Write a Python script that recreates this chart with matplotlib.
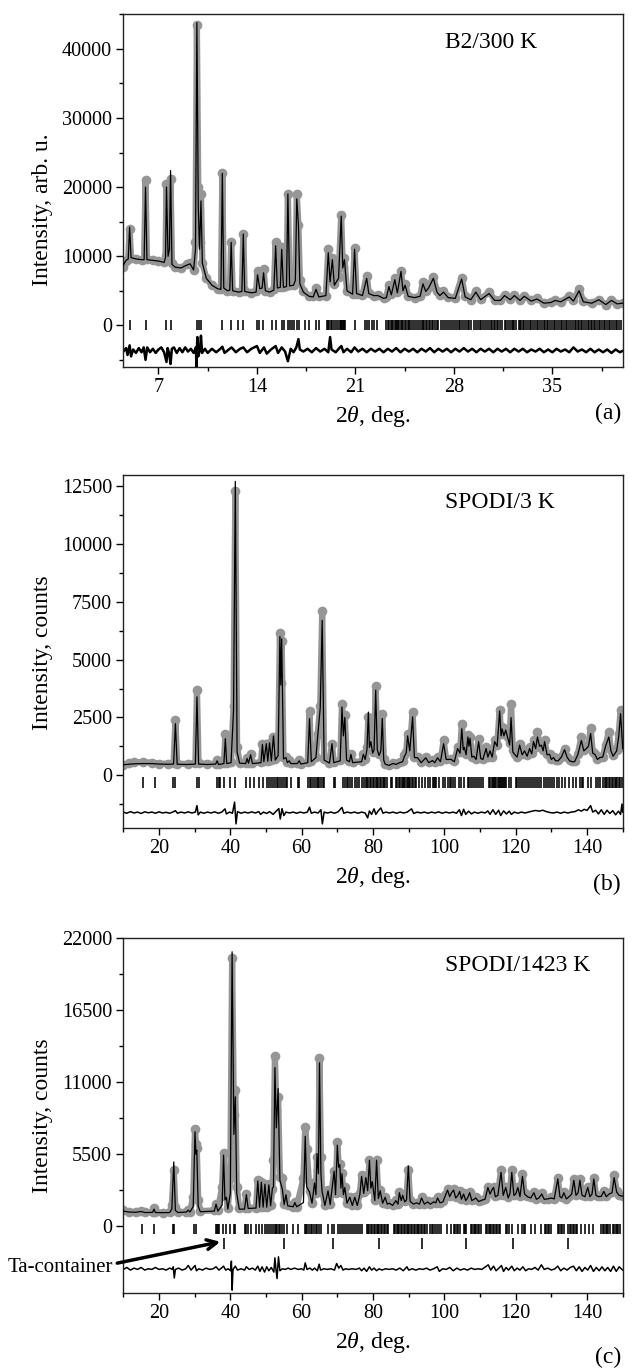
import matplotlib
matplotlib.use('Agg')
import matplotlib.pyplot as plt
from matplotlib.ticker import MultipleLocator

plt.rcParams['font.family'] = ['Liberation Serif', 'DejaVu Serif']
plt.rcParams['mathtext.fontset'] = 'custom'
plt.rcParams['mathtext.rm'] = 'Liberation Serif'
plt.rcParams['mathtext.it'] = 'Liberation Serif:italic'

#------------------------------------------------------------
# Panel (a): B2 / 300 K  (2theta, observed, calculated)
#------------------------------------------------------------
tt_a = [4.5, 4.7, 4.85, 4.95, 5.05, 5.4, 5.8, 5.98, 6.08, 6.18,
        6.6, 7.0, 7.4, 7.5, 7.57, 7.68, 7.78, 7.86, 7.96, 8.2,
        8.6, 9.0, 9.25, 9.5, 9.63, 9.73, 9.83, 9.92, 10.02, 10.12,
        10.4, 10.8, 11.2, 11.44, 11.54, 11.64, 11.9, 12.07, 12.17, 12.27,
        12.7, 12.93, 13.03, 13.13, 13.6, 13.94, 14.04, 14.2, 14.37, 14.47,
        14.6, 14.9, 15.2, 15.33, 15.45, 15.66, 15.76, 15.88, 16.1, 16.2,
        16.32, 16.6, 16.73, 16.83, 16.95, 17.05, 17.3, 17.7, 18.0, 18.2,
        18.4, 18.9, 19.07, 19.2, 19.36, 19.5, 19.8, 19.99, 20.1, 20.22,
        20.4, 20.8, 20.94, 21.08, 21.5, 21.8, 21.95, 22.3, 22.6, 23.0,
        23.2, 23.38, 23.55, 23.8, 23.98, 24.24, 24.38, 24.53, 24.75, 25.2,
        25.6, 25.8, 26.0, 26.2, 26.54, 26.8, 27.0, 27.26, 27.6, 28.1,
        28.55, 28.8, 29.2, 29.56, 29.9, 30.5, 30.9, 31.3, 31.6, 32.0,
        32.3, 32.7, 33.0, 33.5, 33.9, 34.4, 34.9, 35.2, 35.6, 36.2,
        36.5, 36.9, 37.2, 37.8, 38.3, 38.8, 39.2, 39.6, 40.0]
obs_a = [8500, 9300, 9600, 14000, 9800, 9600, 9500, 9600, 21000, 9600,
         9400, 9300, 9100, 10000, 20500, 10500, 12000, 21200, 9000, 8400,
         8300, 8800, 9000, 8000, 12000, 43500, 20000, 12000, 19000, 9000,
         6800, 5800, 5300, 5200, 22000, 5500, 5000, 5100, 12000, 5000,
         4800, 4900, 13200, 4900, 4700, 4900, 7800, 5500, 5600, 8200,
         5000, 4800, 5200, 12000, 5500, 5600, 11300, 5600, 5700, 19000,
         5800, 5900, 7000, 19000, 14500, 6500, 5000, 4200, 4200, 5400,
         4200, 4300, 11000, 6500, 9800, 6000, 7000, 16000, 8500, 9700,
         5000, 4500, 11200, 4600, 4400, 7200, 4700, 4300, 4400, 3900,
         4100, 5800, 4500, 6800, 4800, 7900, 5200, 6000, 4300, 4000,
         4300, 6300, 5000, 5600, 7000, 4900, 4400, 5000, 4100, 4000,
         6900, 4200, 3700, 5000, 3800, 4800, 3700, 3700, 4400, 3800,
         4400, 3700, 4300, 3600, 3900, 3200, 3300, 3600, 3400, 4200,
         3600, 5200, 3500, 3200, 3700, 3000, 3700, 3100, 3200]
calc_a = [8700, 9400, 9600, 14200, 9800, 9600, 9500, 9500, 20000, 9500,
          9400, 9300, 9100, 9800, 20000, 10000, 11000, 22400, 8800, 8400,
          8300, 8700, 8900, 8000, 11000, 43800, 17000, 11000, 18000, 9000,
          6800, 5800, 5300, 5200, 22000, 5400, 5000, 5100, 12000, 5000,
          4800, 4900, 13200, 4900, 4700, 4800, 7300, 5300, 5400, 7600,
          5000, 4800, 5100, 11500, 5400, 5500, 11000, 5500, 5600, 19000,
          5700, 5800, 6500, 18300, 14500, 6000, 4800, 4200, 4100, 5200,
          4100, 4300, 10500, 6300, 9500, 5800, 6800, 15800, 8300, 9500,
          5000, 4500, 11000, 4600, 4300, 6800, 4600, 4300, 4300, 3900,
          4000, 5600, 4400, 6600, 4700, 7800, 5000, 5800, 4200, 4000,
          4200, 6000, 4900, 5400, 6800, 4800, 4300, 4800, 4000, 3900,
          6700, 4100, 3700, 4800, 3700, 4600, 3600, 3600, 4300, 3700,
          4300, 3600, 4200, 3500, 3800, 3200, 3300, 3600, 3400, 4100,
          3500, 5000, 3400, 3200, 3700, 3000, 3600, 3100, 3200]
hkl_a = [5.0, 6.08, 7.57, 7.86, 9.73, 9.85, 10.02, 11.54, 12.17, 12.65,
         13.03, 14.0, 14.12, 14.45, 15.1, 15.33, 15.76, 15.95, 16.2, 16.35,
         16.5, 16.65, 16.83, 17.0, 17.45, 17.7, 18.2, 18.38, 19.0, 19.07,
         19.15, 19.25, 19.36, 19.5, 19.6, 19.75, 19.88, 19.94, 19.99, 20.05,
         20.1, 20.16, 20.22, 20.28, 20.94, 21.66, 21.8, 22.0, 22.2, 22.35,
         22.55, 23.15, 23.3, 23.38, 23.5, 23.62, 23.7, 23.8, 23.86, 23.95,
         24.05, 24.12, 24.24, 24.3, 24.4, 24.53, 24.6, 24.72, 24.8, 24.9,
         25.05, 25.15, 25.3, 25.45, 25.6, 25.7, 25.8, 25.9, 26.0, 26.1,
         26.2, 26.32, 26.44, 26.54, 26.65, 26.8, 26.9, 27.1, 27.26, 27.4,
         27.5, 27.65, 27.8, 27.95, 28.1, 28.25, 28.35, 28.45, 28.55, 28.7,
         28.85, 29.0, 29.1, 29.22, 29.4, 29.56, 29.7, 29.85, 29.95, 30.05,
         30.2, 30.35, 30.5, 30.62, 30.72, 30.85, 30.95, 31.05, 31.15, 31.3,
         31.45, 31.6, 31.72, 31.85, 32.0, 32.1, 32.2, 32.3, 32.45, 32.6,
         32.7, 32.8, 32.9, 33.0, 33.15, 33.3, 33.4, 33.5, 33.62, 33.75,
         33.9, 34.0, 34.1, 34.25, 34.4, 34.5, 34.6, 34.7, 34.85, 35.0,
         35.1, 35.2, 35.35, 35.5, 35.6, 35.7, 35.8, 35.95, 36.05, 36.2,
         36.3, 36.45, 36.6, 36.7, 36.8, 36.9, 37.0, 37.12, 37.25, 37.4,
         37.5, 37.6, 37.72, 37.85, 37.95, 38.05, 38.2, 38.3, 38.4, 38.55,
         38.65, 38.75, 38.9, 39.0, 39.1, 39.25, 39.4, 39.5, 39.6, 39.75, 39.9]
dif_a_x = [4.5, 4.7, 4.8, 4.95, 5.05, 5.2, 5.4, 5.6, 5.8, 5.95,
           6.08, 6.2, 6.4, 6.6, 6.8, 7.0, 7.2, 7.4, 7.57, 7.65,
           7.75, 7.86, 7.95, 8.1, 8.3, 8.5, 8.7, 8.9, 9.1, 9.3,
           9.5, 9.66, 9.7, 9.76, 9.83, 9.95, 10.02, 10.1, 10.3, 10.5,
           10.8, 11.1, 11.4, 11.54, 11.7, 12.0, 12.2, 12.5, 12.8, 13.03,
           13.3, 13.6, 14.0, 14.2, 14.5, 14.7, 15.0, 15.33, 15.5, 15.76,
           16.0, 16.2, 16.4, 16.6, 16.8, 16.95, 17.05, 17.3, 17.6, 17.9,
           18.2, 18.5, 18.8, 19.07, 19.2, 19.3, 19.6, 19.9, 20.0, 20.15,
           20.4, 20.7, 20.94, 21.2, 21.5, 21.8, 22.1, 22.4, 22.7, 23.0,
           23.3, 23.6, 23.9, 24.2, 24.5, 24.8, 25.1, 25.4, 25.7, 26.0,
           26.3, 26.6, 26.9, 27.2, 27.5, 27.8, 28.1, 28.4, 28.7, 29.0,
           29.3, 29.6, 29.9, 30.2, 30.5, 30.8, 31.1, 31.4, 31.7, 32.0,
           32.3, 32.6, 32.9, 33.2, 33.5, 33.8, 34.1, 34.4, 34.7, 35.0,
           35.3, 35.6, 35.9, 36.2, 36.5, 36.8, 37.1, 37.4, 37.7, 38.0,
           38.3, 38.6, 38.9, 39.2, 39.5, 39.8, 40.0]
dif_a_y = [-3800, -3300, -4300, -2900, -4500, -3500, -4000, -3300, -3900, -3200,
           -5000, -3200, -3900, -3400, -4000, -3500, -3200, -3900, -5300, -3300,
           -4000, -5600, -3400, -3200, -4000, -3300, -3900, -3200, -3800, -3400,
           -4000, -3200, -6000, -1700, -4500, -3500, -1500, -4000, -3400, -4000,
           -3400, -3900, -3400, -3100, -4000, -3500, -3200, -3900, -3400, -3200,
           -3900, -3400, -3000, -4000, -3200, -4100, -3500, -3000, -4000, -3200,
           -3800, -5200, -3400, -3900, -3200, -2000, -3500, -3800, -3400, -3900,
           -3300, -3800, -3400, -3900, -1700, -3500, -3900, -3200, -3000, -3900,
           -3400, -3900, -3200, -3800, -3400, -3900, -3400, -3800, -3400, -3900,
           -3400, -3800, -3300, -3900, -3400, -3800, -3400, -3900, -3400, -3800,
           -3300, -3900, -3400, -3800, -3400, -3900, -3400, -3800, -3300, -3800,
           -3400, -3900, -3400, -3800, -3400, -3900, -3400, -3800, -3400, -3900,
           -3400, -3800, -3400, -3900, -3500, -3800, -3400, -3900, -3500, -3900,
           -3400, -3800, -3500, -3900, -3200, -3800, -3500, -3900, -3400, -3900,
           -3500, -3900, -3500, -4000, -3500, -3900, -3700]

#------------------------------------------------------------
# Panel (b): SPODI / 3 K
#------------------------------------------------------------
tt_b = [10.0, 11.5, 13.0, 15.5, 18.0, 20.0, 22.5, 24.1, 24.6, 25.1,
        28.0, 30.2, 30.65, 31.1, 33.5, 35.9, 36.3, 36.7, 38.2, 38.6,
        39.0, 40.2, 40.9, 41.4, 41.9, 42.6, 44.3, 44.7, 45.1, 45.7,
        46.2, 48.6, 49.0, 49.4, 50.1, 50.5, 51.0, 51.5, 52.1, 52.6,
        53.4, 53.9, 54.15, 54.4, 54.9, 55.6, 56.0, 56.5, 57.0, 58.8,
        59.3, 59.8, 61.7, 62.2, 62.7, 64.0, 64.5, 65.2, 65.75, 66.3,
        67.8, 68.5, 69.0, 70.8, 71.3, 71.7, 72.1, 72.6, 73.4, 73.8,
        74.3, 76.8, 77.3, 77.8, 78.3, 78.7, 79.0, 79.4, 79.9, 80.3,
        80.75, 81.2, 81.7, 82.2, 82.6, 83.0, 83.4, 84.5, 85.5, 86.5,
        87.5, 88.3, 88.8, 89.3, 89.7, 90.3, 91.1, 91.6, 92.5, 93.5,
        94.8, 95.6, 96.7, 97.3, 98.1, 98.9, 99.8, 100.5, 101.9, 102.8,
        103.7, 104.4, 104.9, 105.3, 105.6, 106.1, 106.6, 106.9, 107.2, 107.7,
        108.2, 108.9, 109.6, 110.2, 110.8, 111.7, 112.2, 112.8, 113.4, 114.1,
        114.8, 115.5, 115.9, 116.2, 116.7, 117.2, 117.8, 118.3, 118.7, 119.2,
        119.7, 120.4, 121.1, 121.8, 122.5, 123.2, 123.9, 124.5, 125.0, 125.6,
        126.1, 126.7, 127.2, 127.7, 128.1, 128.8, 129.5, 130.0, 130.6, 131.2,
        131.9, 132.8, 133.7, 134.4, 135.1, 135.8, 136.5, 137.4, 138.4, 139.1,
        139.8, 140.4, 141.0, 141.6, 142.2, 142.9, 143.6, 144.4, 145.2, 146.1,
        146.7, 147.3, 148.3, 148.9, 149.4, 150.0]
obs_b = [420, 520, 560, 560, 540, 500, 490, 520, 2370, 500,
         480, 520, 3700, 520, 480, 500, 640, 480, 520, 1770,
         520, 560, 3000, 12290, 1200, 540, 520, 750, 540, 900,
         520, 560, 1360, 600, 1360, 620, 1380, 640, 1650, 700,
         900, 6140, 4000, 5800, 800, 780, 560, 640, 520, 520,
         640, 500, 560, 2780, 600, 800, 1800, 3000, 7100, 700,
         540, 1360, 560, 640, 3100, 1800, 2590, 700, 600, 930,
         560, 600, 930, 700, 1200, 2500, 1300, 1500, 1000, 1200,
         3850, 1200, 900, 1100, 2660, 700, 490, 430, 520, 480,
         560, 600, 850, 1000, 1800, 1100, 2735, 800, 780, 560,
         780, 560, 650, 560, 780, 600, 1500, 700, 700, 600,
         1200, 1000, 2230, 1200, 1250, 900, 1720, 1300, 1650, 800,
         850, 700, 1580, 750, 700, 1200, 800, 1070, 800, 1500,
         1300, 2810, 1800, 2080, 1800, 2010, 1650, 1400, 3070, 1100,
         930, 800, 1360, 900, 1070, 850, 1200, 950, 1500, 1200,
         1870, 1300, 1360, 1100, 1500, 900, 930, 700, 780, 640,
         640, 800, 1140, 800, 640, 600, 600, 900, 1650, 1100,
         1200, 1300, 2040, 1000, 930, 700, 780, 800, 1300, 1870,
         1100, 850, 1070, 1800, 2810, 1200]
calc_b = [450, 470, 490, 500, 500, 480, 470, 480, 2230, 470,
          460, 480, 3390, 480, 460, 480, 620, 460, 500, 1580,
          500, 540, 2800, 12720, 1000, 520, 500, 720, 520, 880,
          500, 540, 1330, 580, 1360, 600, 1400, 620, 1700, 650,
          850, 6000, 3900, 5900, 700, 760, 540, 620, 500, 500,
          620, 480, 540, 2450, 580, 760, 1700, 2900, 6700, 650,
          520, 1360, 540, 620, 2950, 1700, 2500, 650, 580, 900,
          540, 580, 900, 680, 1100, 2730, 1200, 1450, 950, 1100,
          3680, 1100, 850, 1050, 2450, 650, 480, 420, 500, 470,
          540, 580, 820, 950, 1700, 1050, 2520, 760, 750, 540,
          750, 540, 630, 540, 750, 580, 1360, 680, 680, 580,
          1150, 950, 2010, 1100, 1200, 880, 1650, 1250, 1600, 780,
          820, 680, 1450, 720, 680, 1150, 780, 1050, 780, 1450,
          1250, 2780, 1700, 2000, 1700, 1950, 1600, 1300, 2490, 1000,
          900, 780, 1300, 880, 1050, 820, 1150, 920, 1450, 1150,
          1650, 1250, 1300, 1050, 1450, 880, 900, 680, 760, 620,
          620, 780, 1100, 780, 620, 580, 580, 880, 1500, 1050,
          1150, 1250, 1800, 950, 900, 680, 760, 780, 1250, 1650,
          1050, 820, 1050, 1700, 2660, 1150]
hkl_b = [15.5, 18.8, 24.0, 24.4, 30.75, 31.2, 36.2, 36.7, 37.2, 38.3,
         39.8, 41.4, 44.5, 45.5, 46.6, 48.0, 49.2, 50.2, 50.8, 51.4,
         52.0, 52.5, 53.0, 53.5, 54.0, 54.4, 55.0, 55.5, 56.0, 57.0,
         58.9, 59.3, 61.9, 62.3, 62.7, 63.3, 63.8, 64.2, 64.6, 65.0,
         65.4, 65.9, 66.4, 69.0, 69.4, 71.6, 72.1, 72.6, 73.1, 73.6,
         74.0, 75.0, 75.6, 76.2, 76.8, 77.5, 77.9, 78.3, 78.7, 79.1,
         79.5, 79.9, 80.3, 80.7, 81.1, 81.5, 81.9, 82.3, 82.7, 83.1,
         83.5, 84.0, 85.0, 85.4, 86.4, 86.8, 87.2, 87.6, 88.0, 88.3,
         88.7, 89.0, 89.4, 89.8, 90.2, 90.5, 90.9, 91.3, 91.7, 92.0,
         93.0, 93.8, 94.5, 95.3, 96.0, 96.7, 97.0, 97.4, 97.7, 98.6,
         99.5, 100.3, 100.9, 101.5, 102.0, 102.5, 103.0, 104.0, 104.7, 105.6,
         106.6, 107.0, 107.5, 108.0, 108.6, 109.2, 109.8, 110.3, 110.8, 112.5,
         112.9, 113.4, 113.7, 114.0, 114.3, 114.6, 114.9, 115.2, 115.5, 115.8,
         116.1, 116.4, 116.7, 117.0, 117.3, 118.0, 118.7, 120.0, 120.5, 121.0,
         121.5, 122.0, 122.6, 123.2, 123.7, 124.3, 124.8, 125.4, 126.0, 126.5,
         127.2, 127.8, 128.4, 129.0, 129.6, 130.2, 130.8, 131.5, 132.2, 132.9,
         133.7, 135.0, 136.0, 137.0, 138.0, 138.5, 139.0, 140.3, 141.0, 142.6,
         143.1, 143.6, 144.5, 144.9, 145.3, 145.7, 146.1, 146.5, 146.9, 147.3,
         147.7, 148.1, 148.5, 148.9, 149.3, 149.7]
dif_b_x = [10, 11, 12, 13, 14, 15, 16, 17, 18, 19,
           20, 21, 22, 23, 24, 24.6, 25.2, 26.2, 27.2, 28.2,
           29.2, 30.2, 30.65, 31.0, 31.6, 32.6, 33.6, 34.6, 35.6, 36.6,
           37.6, 38.5, 38.9, 39.8, 40.6, 41.2, 41.6, 42.0, 43.0, 44.0,
           45.0, 46.0, 47.0, 48.0, 48.5, 49.3, 50.2, 51.0, 52.0, 52.6,
           53.6, 54.0, 54.5, 55.0, 55.6, 56.6, 57.6, 58.6, 59.6, 60.6,
           61.6, 62.2, 62.7, 63.6, 64.6, 65.4, 65.8, 66.3, 67.2, 68.2,
           69.2, 70.2, 71.3, 71.8, 72.8, 73.8, 74.8, 75.8, 76.8, 77.8,
           78.5, 79.0, 79.6, 80.3, 80.8, 81.4, 82.2, 82.8, 83.6, 84.6,
           85.6, 86.6, 87.6, 88.6, 89.6, 90.8, 91.4, 92.4, 93.4, 94.4,
           95.4, 96.4, 97.4, 98.4, 99.4, 100.4, 101.4, 102.4, 103.4, 104.2,
           104.8, 105.4, 106.0, 106.8, 107.6, 108.4, 109.4, 110.4, 111.4, 112.2,
           112.8, 113.6, 114.4, 115.2, 115.8, 116.6, 117.4, 118.2, 118.8, 119.6,
           120.6, 121.6, 122.6, 123.6, 124.6, 125.6, 126.6, 127.6, 128.6, 129.6,
           130.6, 131.6, 132.6, 133.6, 134.6, 135.6, 136.6, 137.6, 138.4, 139.2,
           140.0, 141.0, 141.6, 142.4, 143.2, 144.0, 144.8, 145.6, 146.4, 147.2,
           148.0, 148.8, 149.4, 149.8, 150.0]
dif_b_y = [-1600, -1650, -1580, -1640, -1600, -1660, -1590, -1630, -1600, -1650,
           -1590, -1640, -1610, -1650, -1590, -1540, -1650, -1600, -1640, -1590,
           -1640, -1600, -1320, -1720, -1600, -1650, -1600, -1640, -1590, -1650,
           -1600, -1460, -1680, -1600, -1650, -1170, -2110, -1580, -1650, -1600,
           -1640, -1590, -1640, -1580, -1700, -1600, -1660, -1580, -1700, -1600,
           -1450, -1900, -1450, -1750, -1600, -1640, -1600, -1650, -1600, -1640,
           -1600, -1390, -1650, -1600, -1640, -1500, -2110, -1600, -1640, -1600,
           -1650, -1590, -1400, -1650, -1600, -1640, -1600, -1650, -1600, -1640,
           -1850, -1550, -1700, -1460, -1700, -1560, -1420, -1650, -1600, -1640,
           -1600, -1650, -1600, -1640, -1600, -1460, -1660, -1600, -1640, -1600,
           -1650, -1600, -1640, -1590, -1650, -1600, -1640, -1600, -1650, -1500,
           -1750, -1480, -1700, -1560, -1680, -1600, -1650, -1600, -1640, -1550,
           -1700, -1500, -1700, -1520, -1750, -1550, -1680, -1560, -1700, -1600,
           -1650, -1600, -1640, -1600, -1560, -1530, -1560, -1520, -1580, -1620,
           -1640, -1600, -1650, -1600, -1640, -1600, -1580, -1500, -1560, -1480,
           -1530, -1320, -1600, -1520, -1680, -1500, -1700, -1520, -1660, -1540,
           -1720, -1560, -1700, -1250, -1600]

#------------------------------------------------------------
# Panel (c): SPODI / 1423 K
#------------------------------------------------------------
tt_c = [10.0, 11.5, 13.5, 15.0, 16.0, 18.2, 18.6, 19.0, 21.0, 23.0,
        23.6, 24.15, 24.6, 25.3, 27.7, 28.2, 28.7, 29.6, 30.1, 30.35,
        30.6, 31.0, 31.6, 35.5, 36.0, 36.5, 37.7, 38.1, 38.5, 38.9,
        39.3, 40.0, 40.5, 41.0, 41.4, 41.8, 42.5, 44.0, 44.5, 45.0,
        47.2, 47.7, 48.2, 48.7, 49.2, 49.7, 50.2, 50.8, 51.3, 51.8,
        52.1, 52.5, 52.9, 53.4, 53.9, 54.6, 55.1, 55.6, 56.1, 57.6,
        58.1, 58.6, 60.5, 61.0, 61.4, 62.2, 62.9, 63.6, 64.0, 64.3,
        64.7, 65.0, 65.4, 65.7, 66.5, 67.4, 68.0, 69.1, 69.5, 70.0,
        70.35, 70.7, 71.0, 71.3, 71.7, 72.1, 72.7, 73.5, 74.2, 74.9,
        75.6, 76.3, 76.8, 77.4, 78.0, 78.5, 79.0, 79.4, 79.8, 80.5,
        81.0, 81.5, 82.0, 82.7, 83.4, 84.0, 84.6, 85.5, 86.4, 87.0,
        87.4, 87.9, 88.3, 88.9, 89.4, 89.9, 90.4, 91.3, 92.2, 93.0,
        93.6, 94.4, 95.3, 96.1, 97.0, 97.6, 98.1, 98.8, 99.6, 100.3,
        100.9, 101.5, 102.0, 102.6, 103.2, 103.8, 104.3, 104.8, 105.4, 106.0,
        106.5, 107.1, 107.7, 108.3, 108.8, 109.6, 110.5, 111.4, 112.2, 112.8,
        113.3, 113.8, 114.3, 115.0, 115.9, 116.5, 117.2, 117.9, 118.4, 118.9,
        119.5, 120.0, 120.6, 121.2, 121.9, 122.5, 123.3, 124.2, 125.1, 125.8,
        126.5, 127.3, 128.0, 129.0, 129.9, 130.8, 131.8, 132.4, 132.9, 133.5,
        134.2, 135.0, 135.7, 136.3, 136.9, 137.5, 138.0, 138.6, 139.4, 140.2,
        140.8, 141.4, 141.9, 142.5, 143.2, 144.0, 144.7, 145.4, 146.2, 147.0,
        147.6, 148.3, 149.0, 150.0]
obs_c = [1220, 1100, 1080, 1150, 1050, 1060, 1350, 1050, 1040, 1050,
         1600, 4270, 1500, 1050, 1100, 1250, 1100, 2240, 7450, 6300,
         6000, 2000, 1150, 1200, 1700, 1200, 3000, 5590, 3000, 2240,
         1400, 3710, 20470, 8470, 10370, 3000, 1400, 1350, 2490, 1400,
         1400, 3500, 1500, 3400, 1500, 3250, 1500, 3200, 1600, 2870,
         5030, 12970, 8850, 9870, 3760, 3710, 1700, 2490, 1600, 1500,
         1860, 1500, 3640, 7580, 5920, 2700, 1800, 3380, 2500, 5290,
         4270, 12790, 5290, 2750, 1600, 2750, 1700, 4220, 2500, 6430,
         4780, 4780, 3000, 4020, 2500, 3000, 1800, 2240, 1600, 2240,
         1600, 2500, 3890, 2600, 3760, 2800, 5030, 3000, 3500, 2000,
         5030, 2200, 2750, 1800, 2240, 1700, 1800, 1600, 2000, 1700,
         2600, 2000, 2400, 1900, 2300, 4300, 2000, 1700, 1800, 1700,
         2200, 1700, 1900, 1700, 1900, 1800, 2200, 1800, 1900, 2400,
         2800, 2300, 2600, 2800, 2200, 2400, 2700, 2100, 2500, 2000,
         2200, 2600, 2000, 2100, 2200, 1900, 2000, 2100, 3000, 2500,
         2800, 3000, 2300, 2400, 4300, 2400, 3000, 2200, 2600, 4300,
         2400, 2500, 3000, 2300, 4000, 2500, 2300, 2200, 2600, 2100,
         2200, 2500, 2100, 2100, 2200, 2100, 3700, 2300, 2200, 2600,
         2100, 2300, 2500, 3600, 2400, 2600, 3600, 2400, 2300, 3000,
         2300, 2500, 3700, 2400, 2300, 2300, 2700, 2300, 2500, 2600,
         3900, 2700, 2400, 2300]
calc_c = [1150, 1080, 1060, 1120, 1040, 1050, 1300, 1040, 1030, 1040,
          1300, 4900, 1200, 1040, 1080, 1220, 1080, 1500, 7200, 5500,
          5800, 1500, 1100, 1150, 1680, 1150, 1600, 5420, 2000, 2200,
          1300, 2500, 20930, 7000, 9870, 2500, 1300, 1300, 2400, 1350,
          1380, 3450, 1450, 3350, 1450, 3200, 1450, 3150, 1550, 2900,
          3000, 12100, 7500, 10500, 3500, 2800, 1650, 2400, 1550, 1480,
          1800, 1480, 1800, 6860, 3000, 2600, 1750, 3300, 2400, 5540,
          4000, 12460, 4000, 2700, 1580, 2700, 1650, 4200, 2400, 6180,
          4500, 4700, 2900, 4000, 2400, 2950, 1750, 2200, 1580, 2200,
          1580, 2400, 3800, 2500, 3700, 2700, 5030, 2900, 3400, 1950,
          5030, 2100, 2700, 1750, 2200, 1680, 1750, 1580, 1950, 1680,
          2550, 1950, 2350, 1850, 2000, 4600, 1900, 1680, 1780, 1680,
          2150, 1680, 1850, 1680, 1850, 1780, 2150, 1780, 1850, 2350,
          2750, 2250, 2550, 2750, 2150, 2350, 2650, 2050, 2450, 1950,
          2150, 2550, 1950, 2050, 2150, 1880, 1980, 2050, 2950, 2450,
          2750, 2950, 2250, 2350, 4100, 2350, 2950, 2150, 2500, 4100,
          2350, 2450, 2950, 2250, 3800, 2450, 2250, 2150, 2550, 2050,
          2150, 2450, 2050, 2080, 2150, 2080, 3600, 2250, 2150, 2550,
          2080, 2250, 2450, 3500, 2350, 2550, 3500, 2350, 2250, 2950,
          2250, 2450, 3600, 2350, 2250, 2280, 2650, 2250, 2450, 2550,
          3700, 2600, 2350, 2280]
hkl_c = [15.3, 18.6, 23.8, 24.2, 29.8, 30.4, 35.9, 36.2, 36.5, 36.9,
         37.9, 38.9, 40.0, 40.9, 41.4, 44.0, 44.5, 45.0, 45.7, 47.1,
         48.0, 49.0, 49.6, 50.4, 50.9, 51.4, 51.9, 52.4, 52.8, 53.2,
         53.6, 54.0, 54.5, 55.1, 56.0, 57.5, 58.9, 60.8, 61.2, 61.6,
         62.1, 62.6, 63.0, 63.5, 64.0, 64.4, 65.0, 65.5, 67.5, 68.5,
         69.2, 70.2, 70.7, 71.2, 71.8, 72.4, 73.0, 73.6, 74.1, 74.7,
         75.3, 75.8, 76.3, 76.8, 78.2, 78.6, 79.0, 79.4, 79.8, 80.2,
         80.6, 81.0, 81.4, 81.8, 82.2, 82.6, 83.0, 83.4, 83.8, 84.3,
         85.8, 86.2, 86.6, 87.0, 87.4, 87.8, 88.2, 88.6, 89.0, 89.4,
         89.8, 90.2, 90.6, 91.0, 91.4, 91.8, 92.2, 92.6, 93.0, 93.4,
         93.8, 94.2, 94.7, 95.2, 96.0, 96.4, 96.8, 97.4, 98.0, 98.5,
         99.2, 100.8, 101.9, 102.7, 103.1, 103.5, 103.9, 104.3, 105.4, 105.8,
         106.2, 107.4, 107.8, 108.2, 108.6, 109.0, 109.4, 109.8, 110.2, 111.6,
         112.0, 112.4, 112.8, 113.2, 113.6, 114.0, 114.4, 114.8, 115.2, 115.6,
         117.2, 117.6, 118.0, 118.9, 120.6, 121.8, 122.2, 122.6, 124.3, 125.4,
         127.1, 128.2, 128.6, 129.0, 129.4, 129.8, 131.8, 132.2, 132.6, 133.0,
         133.5, 134.8, 135.2, 135.6, 136.0, 136.4, 136.8, 137.2, 138.4, 139.5,
         140.6, 141.8, 144.0, 144.4, 144.8, 145.2, 145.6, 146.0, 146.4, 147.2,
         147.6, 148.0, 148.4, 148.8, 149.2]
hkl_ta = [38.1, 55.0, 68.9, 81.6, 93.6, 106.0, 119.2, 134.6]
dif_c_x = [10, 11, 12, 13, 14, 15, 16, 17, 18, 19,
           20, 21, 22, 23, 23.8, 24.0, 24.3, 24.6, 25.5, 26.5,
           27.5, 28.2, 29.0, 29.8, 30.1, 30.5, 31.2, 32.2, 33.2, 34.2,
           35.2, 36.0, 36.8, 37.5, 38.1, 38.7, 39.4, 40.1, 40.3, 40.5,
           40.75, 41.4, 42.0, 43.0, 44.0, 44.5, 45.3, 46.2, 47.0, 47.7,
           48.3, 48.9, 49.6, 50.2, 50.8, 51.5, 52.2, 52.5, 52.8, 53.1,
           53.5, 53.9, 54.6, 55.4, 56.2, 57.0, 58.0, 59.0, 60.0, 60.6,
           61.0, 61.5, 62.3, 63.0, 63.6, 64.4, 64.9, 65.3, 66.2, 67.2,
           68.2, 69.2, 69.8, 70.4, 71.0, 71.6, 72.3, 73.2, 74.2, 75.2,
           76.2, 76.8, 77.5, 78.2, 79.0, 79.6, 80.3, 81.0, 81.7, 82.5,
           83.5, 84.5, 85.5, 86.5, 87.5, 88.5, 89.5, 90.0, 91.0, 92.0,
           93.0, 94.0, 95.0, 96.0, 97.0, 98.0, 98.6, 99.5, 100.5, 101.5,
           102.5, 103.5, 104.5, 105.5, 106.5, 107.5, 108.5, 109.5, 110.5, 111.5,
           112.3, 113.0, 113.8, 114.5, 115.3, 116.0, 116.6, 117.3, 118.0, 118.9,
           119.6, 120.4, 121.2, 122.0, 122.8, 123.6, 124.5, 125.4, 126.3, 127.2,
           128.0, 129.0, 130.0, 131.0, 131.8, 132.6, 133.5, 134.4, 135.3, 136.2,
           137.0, 137.8, 138.6, 139.4, 140.2, 141.0, 141.8, 142.6, 143.4, 144.2,
           145.0, 145.8, 146.6, 147.4, 148.2, 149.0, 150.0]
dif_c_y = [-3300, -3150, -3350, -3200, -3300, -3150, -3350, -3250, -3300, -3150,
           -3300, -3250, -3350, -3200, -3300, -3100, -3950, -3300, -3200, -3350,
           -3250, -3000, -3350, -3100, -3000, -3400, -3250, -3350, -3200, -3300,
           -3250, -3100, -3350, -3200, -3050, -3350, -3250, -3400, -2670, -4880,
           -3300, -3050, -3350, -3250, -3350, -3100, -3300, -3200, -3350, -3050,
           -3450, -3100, -3500, -3100, -3400, -3150, -3500, -2420, -3300, -4000,
           -2340, -3400, -3250, -3300, -3200, -3300, -3200, -3300, -3250, -3350,
           -2800, -3300, -3200, -3350, -3200, -3400, -2900, -3350, -3250, -3300,
           -3250, -3350, -2850, -3200, -3000, -3350, -3250, -3300, -3250, -3300,
           -3200, -3400, -3200, -3450, -3100, -3350, -3200, -3400, -3250, -3350,
           -3250, -3300, -3250, -3350, -3200, -3400, -3100, -3350, -3250, -3350,
           -3250, -3300, -3200, -3350, -3250, -3100, -3450, -3250, -3300, -3150,
           -3400, -3200, -3350, -3250, -3350, -3200, -3300, -3250, -3300, -3100,
           -2950, -3350, -3050, -3400, -3200, -3000, -3450, -3150, -3350, -3050,
           -3400, -3200, -3350, -3100, -3400, -3250, -3300, -3150, -3350, -2950,
           -3300, -3200, -3350, -3250, -3050, -3400, -3200, -3350, -3150, -3050,
           -3400, -3100, -3450, -3150, -3350, -3000, -3450, -3150, -3400, -3100,
           -3400, -3150, -3450, -3050, -3450, -3100, -3350]

GREY = '#969696'

#------------------------------------------------------------
fig = plt.figure(figsize=(6.32, 13.69), dpi=100)
ax_a = fig.add_axes([0.1951, 0.7321, 0.7902, 0.2574])
ax_b = fig.add_axes([0.1951, 0.3950, 0.7902, 0.2581])
ax_c = fig.add_axes([0.1951, 0.0555, 0.7902, 0.2595])


def draw_pattern(ax, tt, obs, calc, hkl, hkl_lo, hkl_hi, dx, dy, dlw):
    ax.plot(tt, obs, color=GREY, lw=4.5, solid_joinstyle='round',
            solid_capstyle='round', marker='o', ms=7, mec='none', zorder=1)
    ax.plot(tt, calc, color='black', lw=0.9, zorder=3)
    ax.vlines(hkl, hkl_lo, hkl_hi, color='black', lw=1.15, zorder=2)
    ax.plot(dx, dy, color='black', lw=dlw, zorder=2)


def style_axis(ax, xmaj, xmin, ymaj, ymin):
    ax.xaxis.set_major_locator(MultipleLocator(xmaj))
    ax.xaxis.set_minor_locator(MultipleLocator(xmin))
    ax.yaxis.set_major_locator(MultipleLocator(ymaj))
    ax.yaxis.set_minor_locator(MultipleLocator(ymin))
    ax.tick_params(which='both', direction='out', top=False, right=False,
                   width=1.0, labelsize=14.5, pad=3)
    ax.tick_params(which='major', length=5)
    ax.tick_params(which='minor', length=3)
    for s in ax.spines.values():
        s.set_linewidth(1.0)
        s.set_color('#222222')
    ax.set_xlabel(r'2$\theta$, deg.', fontsize=17)


# (a)
draw_pattern(ax_a, tt_a, obs_a, calc_a, hkl_a, -700, 700, dif_a_x, dif_a_y, 1.8)
ax_a.set_xlim(4.5, 40)
ax_a.set_ylim(-6000, 45000)
style_axis(ax_a, 7, 3.5, 10000, 5000)
ax_a.set_ylabel('Intensity, arb. u.', fontsize=17)
ax_a.yaxis.set_label_coords(-0.14, 0.445)
ax_a.xaxis.set_label_coords(0.5, -0.105)
ax_a.text(0.644, 0.921, 'B2/300 K', transform=ax_a.transAxes,
          fontsize=17, ha='left', va='center')

# (b)
draw_pattern(ax_b, tt_b, obs_b, calc_b, hkl_b, -560, -100, dif_b_x, dif_b_y, 1.1)
ax_b.set_xlim(10, 150)
ax_b.set_ylim(-2300, 13000)
style_axis(ax_b, 20, 10, 2500, 1250)
ax_b.set_ylabel('Intensity, counts', fontsize=17)
ax_b.yaxis.set_label_coords(-0.14, 0.497)
ax_b.xaxis.set_label_coords(0.5, -0.105)
ax_b.text(0.644, 0.921, 'SPODI/3 K', transform=ax_b.transAxes,
          fontsize=17, ha='left', va='center')

# (c)
draw_pattern(ax_c, tt_c, obs_c, calc_c, hkl_c, -610, 200, dif_c_x, dif_c_y, 1.1)
ax_c.vlines(hkl_ta, -1780, -940, color='black', lw=1.15)
ax_c.set_xlim(10, 150)
ax_c.set_ylim(-5100, 22000)
style_axis(ax_c, 20, 10, 5500, 2750)
ax_c.set_ylabel('Intensity, counts', fontsize=17)
ax_c.yaxis.set_label_coords(-0.14, 0.5)
ax_c.xaxis.set_label_coords(0.5, -0.105)
ax_c.text(0.644, 0.921, 'SPODI/1423 K', transform=ax_c.transAxes,
          fontsize=17, ha='left', va='center')
ax_c.annotate('', xy=(37.2, -1195), xytext=(8.3, -2820), xycoords='data',
              annotation_clip=False,
              arrowprops=dict(arrowstyle='->, head_length=0.7, head_width=0.35',
                              lw=2.5, color='black', shrinkA=0, shrinkB=0))
fig.text(0.0127, 0.0738, 'Ta-container', fontsize=15, ha='left', va='center')

# panel letters
fig.text(0.9826, 0.6983, '(a)', fontsize=17, ha='right', va='center')
fig.text(0.9826, 0.3543, '(b)', fontsize=17, ha='right', va='center')
fig.text(0.9826, 0.0085, '(c)', fontsize=17, ha='right', va='center')

fig.savefig('out.png', dpi=100, facecolor='w')
